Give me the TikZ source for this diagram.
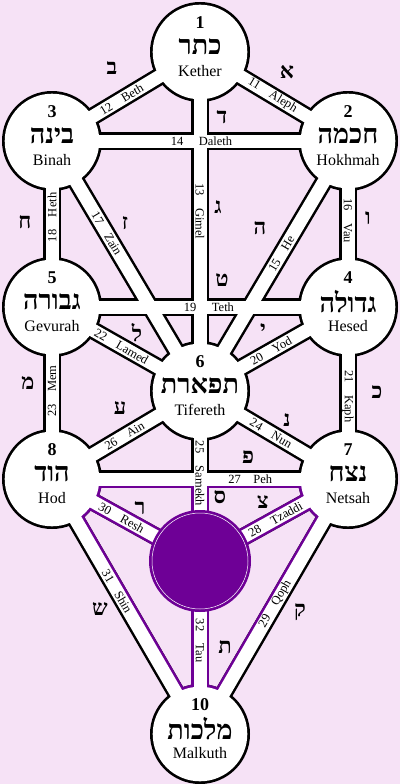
\documentclass[tikz,border=0pt]{standalone}
\usepackage{fontspec}
\setmainfont{Liberation Serif}
\newfontfamily\hebfont[Script=Hebrew]{Liberation Serif}
\TeXXeTstate=1
\usepackage{tikz}
\usetikzlibrary{calc}
\definecolor{treebg}{RGB}{246,226,246}
\definecolor{yesodpurple}{RGB}{110,0,150}

\newcommand\heb[1]{{\hebfont\bfseries\beginR #1\endR}}
\newcommand\treepaths{kether/hokhmah, kether/binah, kether/tifereth, binah/hokhmah,
  hokhmah/tifereth, hokhmah/hesed, binah/tifereth, binah/gevurah, gevurah/hesed,
  hesed/tifereth, hesed/netsah, gevurah/tifereth, gevurah/hod, tifereth/netsah,
  tifereth/yesod, hod/tifereth, hod/netsah, yesod/netsah, malkuth/netsah,
  hod/yesod, hod/malkuth, yesod/malkuth}
\newcommand\sephiroth{kether, hokhmah, binah, hesed, gevurah, tifereth, netsah, hod, yesod, malkuth}

\begin{document}
\begin{tikzpicture}[
        x=1pt, y=-1pt,
        bandedge/.style={line width=18pt, line cap=butt},
        bandfill/.style={white, line width=13pt, line cap=butt},
        pathlabel/.style={sloped, inner sep=0pt, font=\fontsize{12.5}{12.5}\selectfont},
        pathletter/.style={inner sep=0pt, font=\fontsize{22}{22}\hebfont\bfseries},
        numtext/.style={inner sep=0pt, font=\fontsize{18}{18}\selectfont\bfseries},
        hebname/.style={inner sep=0pt, font=\fontsize{27}{27}\selectfont},
        latname/.style={inner sep=0pt, font=\fontsize{16}{16}\selectfont},
    ]
        \useasboundingbox (0,0) rectangle (400,784);
        \fill[treebg] (0,0) rectangle (400,784);

        % Sephiroth centres
        \coordinate (kether) at (200,52);
        \coordinate (hokhmah) at (348,141);
        \coordinate (binah) at (52,141);
        \coordinate (hesed) at (348,307);
        \coordinate (gevurah) at (52,307);
        \coordinate (tifereth) at (200,391);
        \coordinate (netsah) at (348,479);
        \coordinate (hod) at (52,479);
        \coordinate (yesod) at (200,561);
        \coordinate (malkuth) at (200,734);

        % Outlines
        \foreach \a/\b in \treepaths {\draw[bandedge] (\a) -- (\b);}
        \foreach \s in \sephiroth {\fill (\s) circle (50);}
        \begin{scope}
            \clip (hod) -- (netsah) -- (malkuth) -- cycle;
            \foreach \a/\b in \treepaths {\draw[bandedge, yesodpurple] (\a) -- (\b);}
            \foreach \s in {hod, netsah, yesod, malkuth} {\fill[yesodpurple] (\s) circle (50);}
        \end{scope}

        % White paths and spheres
        \foreach \a/\b in \treepaths {\draw[bandfill] (\a) -- (\b);}
        \foreach \s in \sephiroth {\fill[white] (\s) circle (47.3);}
        \fill[yesodpurple] (yesod) circle (51);
        \draw[white, line width=0.5pt] (yesod) circle (48);

        % Path labels
        \path (kether) -- node[pathlabel, pos=0.49] {11\quad Aleph} (hokhmah);
        \path (kether) -- node[pathlabel, pos=0.53] {12\quad Beth} (binah);
        \path (kether) -- node[pathlabel, pos=0.47] {13\quad Gimel} (tifereth);
        \path (binah) -- node[pathlabel, pos=0.505] {14\quad\ Daleth} (hokhmah);
        \path (hokhmah) -- node[pathlabel, pos=0.45] {15\quad He} (tifereth);
        \path (hokhmah) -- node[pathlabel, pos=0.48] {16\quad Vau} (hesed);
        \path (binah) -- node[pathlabel, pos=0.37] {17\quad Zain} (tifereth);
        \path (gevurah) -- node[pathlabel, pos=0.54] {18\quad Heth} (binah);
        \path (gevurah) -- node[pathlabel, pos=0.53] {19\quad\ Teth} (hesed);
        \path (hesed) -- node[pathlabel, pos=0.52] {20\quad Yod} (tifereth);
        \path (hesed) -- node[pathlabel, pos=0.52] {21\quad Kaph} (netsah);
        \path (gevurah) -- node[pathlabel, pos=0.47] {22\quad Lamed} (tifereth);
        \path (hod) -- node[pathlabel, pos=0.51] {23\quad Mem} (gevurah);
        \path (tifereth) -- node[pathlabel, pos=0.48] {24\quad Nun} (netsah);
        \path (tifereth) -- node[pathlabel, pos=0.485] {25\quad Samekh} (yesod);
        \path (hod) -- node[pathlabel, pos=0.49] {26\quad Ain} (tifereth);
        \path (hod) -- node[pathlabel, pos=0.67] {27\quad Peh} (netsah);
        \path (yesod) -- node[pathlabel, pos=0.51] {28\quad Tzaddi} (netsah);
        \path (malkuth) -- node[pathlabel, pos=0.51] {29\quad Qoph} (netsah);
        \path (hod) -- node[pathlabel, pos=0.47] {30\quad Resh} (yesod);
        \path (hod) -- node[pathlabel, pos=0.44] {31\quad Shin} (malkuth);
        \path (yesod) -- node[pathlabel, pos=0.46] {32\quad Tau} (malkuth);

        % Hebrew letters of the paths
        \node[pathletter] (aleph) at (287,72) {א};
        \node[pathletter] (beth) at (112,68) {ב};
        \node[pathletter] (gimel) at (218,207) {ג};
        \node[pathletter] (daleth) at (222,117) {ד};
        \node[pathletter] (he) at (260,228) {ה};
        \node[pathletter] (vau) at (368,218) {ו};
        \node[pathletter] (zain) at (125,223) {ז};
        \node[pathletter] (heth) at (25,222) {ח};
        \node[pathletter] (teth) at (222,280) {ט};
        \node[pathletter] (yod) at (263,330) {י};
        \node[pathletter] (kaph) at (377,392) {כ};
        \node[pathletter] (lamed) at (137,333) {ל};
        \node[pathletter] (mem) at (28,383) {מ};
        \node[pathletter] (nun) at (287,420) {נ};
        \node[pathletter] (samekh) at (220,497) {ס};
        \node[pathletter] (ain) at (120,408) {ע};
        \node[pathletter] (peh) at (248,457) {פ};
        \node[pathletter] (tzaddi) at (263,502) {צ};
        \node[pathletter] (qoph) at (300,612) {ק};
        \node[pathletter] (resh) at (140,508) {ר};
        \node[pathletter] (shin) at (100,609) {ש};
        \node[pathletter] (tau) at (225,647) {ת};

        % Sephiroth texts
        \node[numtext] (kether-num) at ($(kether)+(0,-29)$) {1};
        \node[hebname] (kether-heb) at ($(kether)+(0,-5)$) {\heb{כתר}};
        \node[latname] (kether-name) at ($(kether)+(0,19)$) {Kether};

        \node[numtext] (hokhmah-num) at ($(hokhmah)+(0,-29)$) {2};
        \node[hebname] (hokhmah-heb) at ($(hokhmah)+(0,-5)$) {\heb{חכמה}};
        \node[latname] (hokhmah-name) at ($(hokhmah)+(0,19)$) {Hokhmah};

        \node[numtext] (binah-num) at ($(binah)+(0,-29)$) {3};
        \node[hebname] (binah-heb) at ($(binah)+(0,-5)$) {\heb{בינה}};
        \node[latname] (binah-name) at ($(binah)+(0,19)$) {Binah};

        \node[numtext] (hesed-num) at ($(hesed)+(0,-29)$) {4};
        \node[hebname] (hesed-heb) at ($(hesed)+(0,-5)$) {\heb{גדולה}};
        \node[latname] (hesed-name) at ($(hesed)+(0,19)$) {Hesed};

        \node[numtext] (gevurah-num) at ($(gevurah)+(0,-29)$) {5};
        \node[hebname] (gevurah-heb) at ($(gevurah)+(0,-5)$) {\heb{גבורה}};
        \node[latname] (gevurah-name) at ($(gevurah)+(0,19)$) {Gevurah};

        \node[numtext] (tifereth-num) at ($(tifereth)+(0,-29)$) {6};
        \node[hebname] (tifereth-heb) at ($(tifereth)+(0,-5)$) {\heb{תפארת}};
        \node[latname] (tifereth-name) at ($(tifereth)+(0,19)$) {Tifereth};

        \node[numtext] (netsah-num) at ($(netsah)+(0,-29)$) {7};
        \node[hebname] (netsah-heb) at ($(netsah)+(0,-5)$) {\heb{נצח}};
        \node[latname] (netsah-name) at ($(netsah)+(0,19)$) {Netsah};

        \node[numtext] (hod-num) at ($(hod)+(0,-29)$) {8};
        \node[hebname] (hod-heb) at ($(hod)+(0,-5)$) {\heb{הוד}};
        \node[latname] (hod-name) at ($(hod)+(0,19)$) {Hod};

        \node[numtext] (malkuth-num) at ($(malkuth)+(0,-29)$) {10};
        \node[hebname] (malkuth-heb) at ($(malkuth)+(0,-5)$) {\heb{מלכות}};
        \node[latname] (malkuth-name) at ($(malkuth)+(0,19)$) {Malkuth};
    \end{tikzpicture}
\end{document}
